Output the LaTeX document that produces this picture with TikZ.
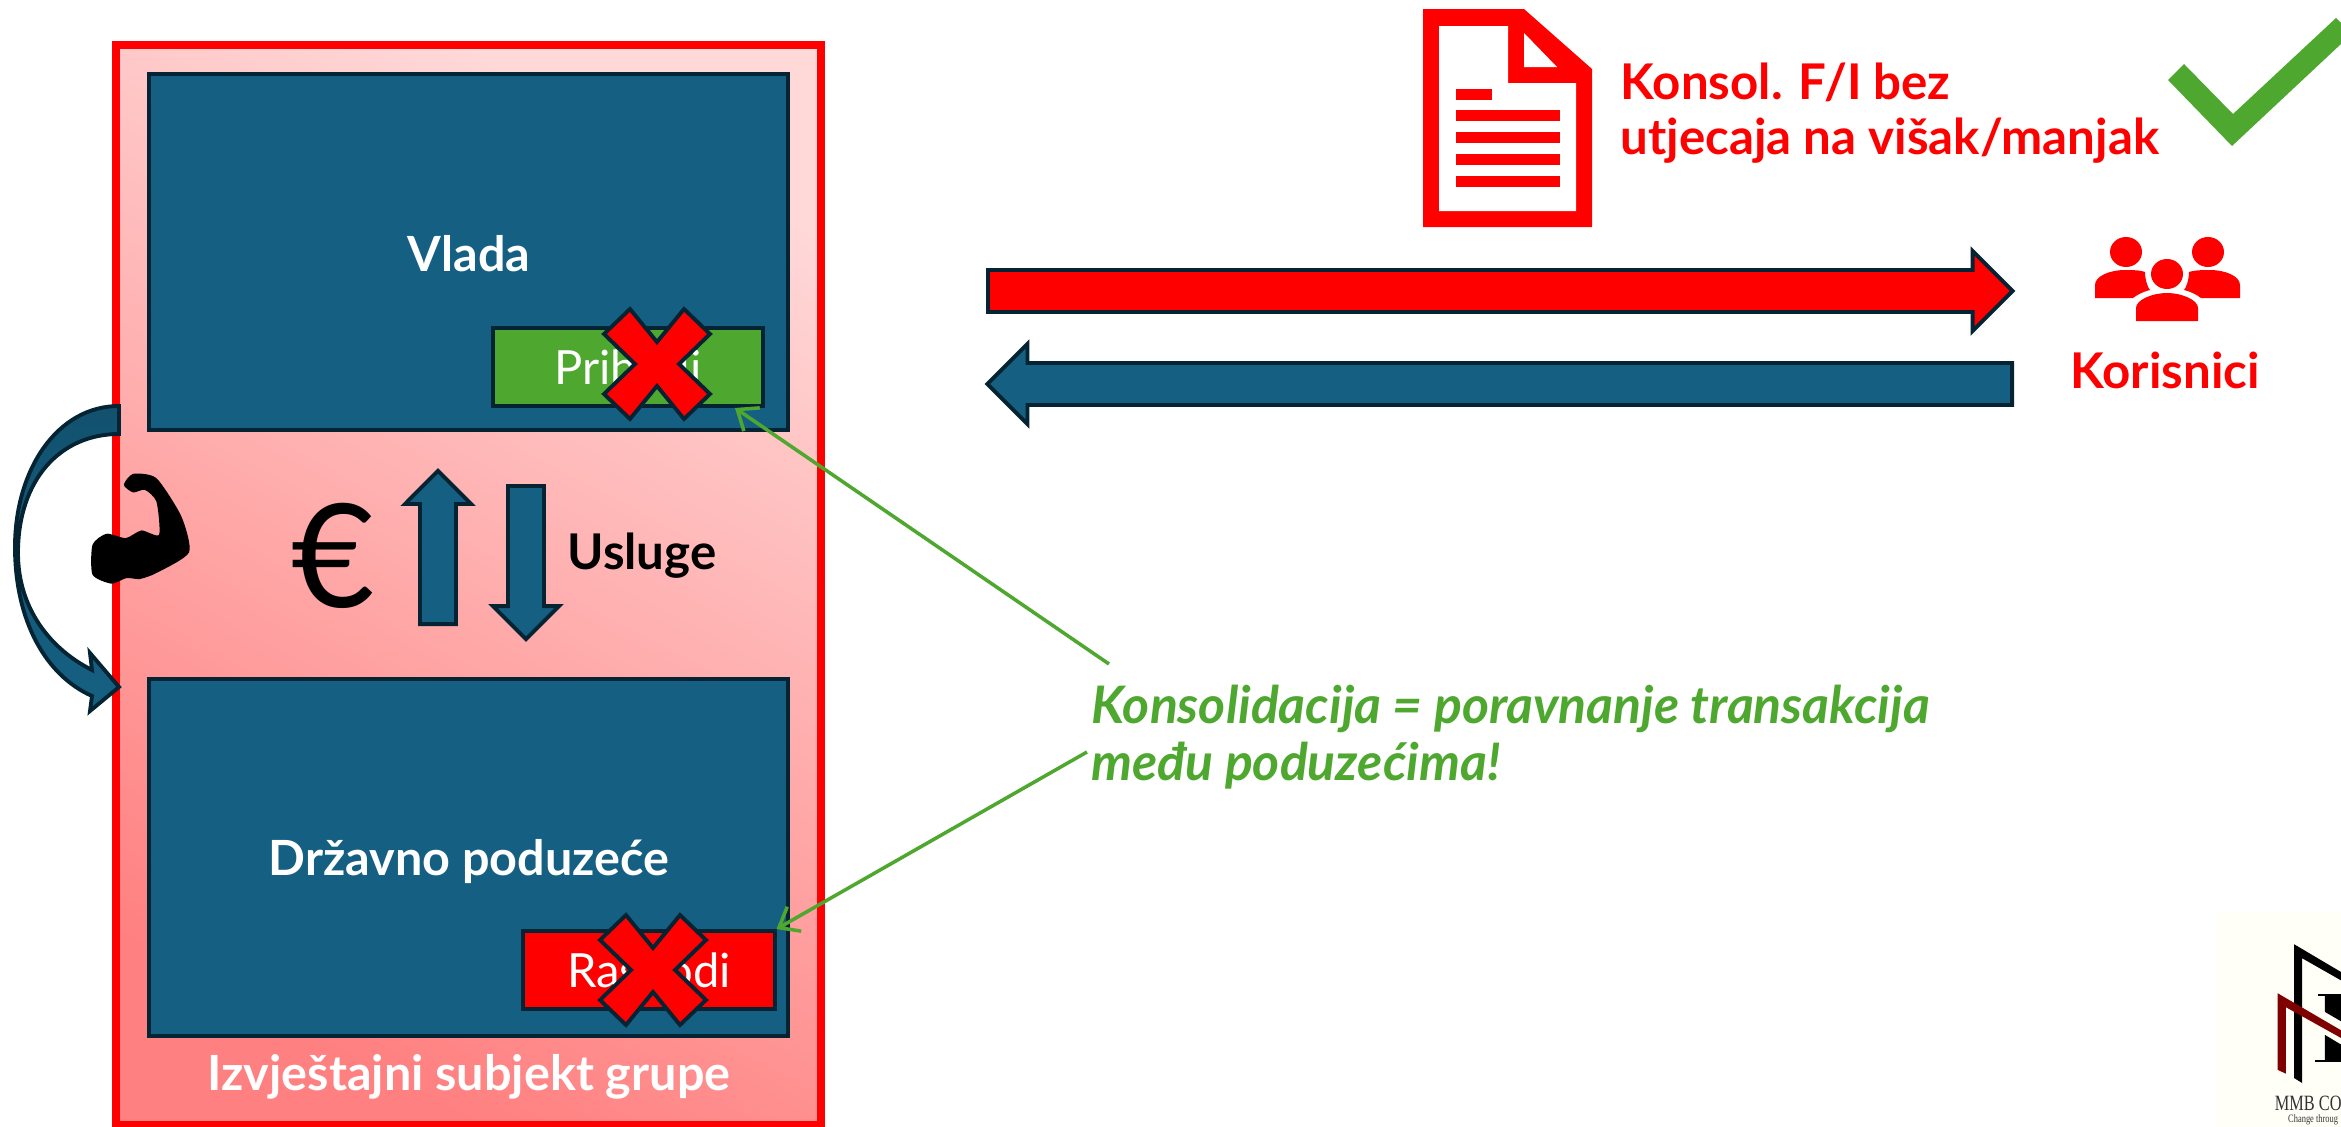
\documentclass[tikz,border=0pt]{standalone}
\usepackage{fontspec}
\setmainfont{Lato}
\newfontfamily\logofont[FakeStretch=0.75]{Liberation Serif}
\usetikzlibrary{ shapes.arrows, % For the block arrows
                 arrows.meta,
               }
\definecolor{boxblue}{HTML}{156082}
\definecolor{boxline}{HTML}{042433}
\definecolor{okgreen}{HTML}{4EA72E}
\definecolor{cream}{HTML}{FFFFF8}
\definecolor{logored}{HTML}{7F0000}
\definecolor{framelight}{HTML}{FFD8D8}
\definecolor{framedark}{HTML}{FF8080}
\tikzstyle{entity} = [rectangle, fill=boxblue, draw=boxline, line width=1.1pt, minimum width=6.39cm, minimum height=3.56cm]
\tikzstyle{entry} = [rectangle, draw=boxline, line width=1.1pt, minimum height=0.78cm, text=white, font=\fontsize{13.4}{15}\selectfont]
\tikzstyle{blockarrow} = [single arrow, anchor=tail, single arrow head extend=0.19cm, inner xsep=0pt, inner ysep=0.19cm, minimum width=0.76cm, minimum height=10.24cm, draw=boxline, line width=1.1pt]
\tikzstyle{smallarrow} = [single arrow, anchor=tail, single arrow head extend=0.15cm, inner xsep=0pt, inner ysep=0.16cm, minimum width=0.62cm, minimum height=1.53cm, fill=boxblue, draw=boxline, line width=1.1pt]
\tikzstyle{redtext} = [text=red, font=\fontsize{14}{15.7}\selectfont\bfseries, align=left]
\tikzstyle{whitetext} = [text=white, font=\fontsize{13.8}{15.7}\selectfont\bfseries]
\tikzstyle{crossmark} = [fill=red, draw=boxline, line width=1.1pt]
\tikzstyle{pointer} = [draw=okgreen, line width=1pt, -{Straight Barb[length=5pt,width=8pt]}]

\begin{document}
\begin{tikzpicture}[x=0.01cm, y=-0.01cm]
  \useasboundingbox (0, 0) rectangle (2341, 1127);

  % group frame and the two units
  \node (frame) [rectangle, draw=red, line width=2.3pt, minimum width=7.04cm, minimum height=10.79cm, top color=framelight, bottom color=framedark, shading angle=-28] at (468.5, 585) {};
  \node (vlada) [entity] at (468.5, 252) {};
  \node (poduzece) [entity] at (468.5, 857.5) {};
  \node (vladatxt) [whitetext] at (469, 254) {Vlada};
  \node (poduzecetxt) [whitetext] at (469, 862) {Državno poduzeće};
  \node (grupa) [whitetext] at (469, 1077) {Izvještajni subjekt grupe};

  \node (prihodi) [entry, fill=okgreen, minimum width=2.70cm] at (628, 367) {Prihodi};
  \node (rashodi) [entry, fill=red, minimum width=2.51cm] at (649, 970) {Rashodi};
  \draw [crossmark] (657, 364) ++(-27, -55) -- ++(27, 33) -- ++(27, -33) -- ++(26, 25) -- ++(-31, 30) -- ++(31, 30) -- ++(-26, 25) -- ++(-27, -33) -- ++(-27, 33) -- ++(-26, -25) -- ++(31, -30) -- ++(-31, -30) -- cycle;
  \draw [crossmark] (653, 970) ++(-27, -55) -- ++(27, 33) -- ++(27, -33) -- ++(26, 25) -- ++(-31, 30) -- ++(31, 30) -- ++(-26, 25) -- ++(-27, -33) -- ++(-27, 33) -- ++(-26, -25) -- ++(31, -30) -- ++(-31, -30) -- cycle;

  % flows between the units
  \node (euro) [font=\fontsize{41}{44}\selectfont] at (333, 556) {€};
  \node (uparrow) [smallarrow, rotate=90] at (438, 626) {};
  \node (downarrow) [smallarrow, rotate=-90] at (526, 484) {};
  \node (usluge) [font=\fontsize{14}{15.7}\selectfont\bfseries] at (642, 556) {Usluge};

  % curved arrow on the left
  \draw [draw=boxline, line width=1.1pt, top color=boxblue!85!black, middle color=boxblue, bottom color=boxblue] (119, 406) .. controls (57, 406) and (15, 470) .. (15, 547) .. controls (15, 620) and (45, 675) .. (92, 696) -- (90, 711) -- (119, 687) -- (90, 653) -- (92, 670) .. controls (52, 650) and (18, 610) .. (18, 553) .. controls (18, 480) and (60, 434) .. (119, 434) -- cycle;
  \begin{scope}[shift={(0, 380)}, x=0.00333cm, y=-0.00333cm]
    \fill [black] plot [smooth cycle, tension=0.4] coordinates {(278, 495) (320, 462) (378, 475) (425, 452) (478, 465) (470, 365) (435, 330) (400, 338) (372, 315) (400, 282) (470, 295) (545, 410) (568, 518) (470, 580) (420, 598) (380, 595) (335, 612) (278, 585)};
  \end{scope}

  % report icon
  \fill [red] (1423, 9) -- (1524, 9) -- (1592, 69) -- (1592, 227) -- (1423, 227) -- cycle;
  \fill [white] (1439, 26) -- (1508, 26) -- (1508, 83) -- (1576, 83) -- (1576, 211) -- (1439, 211) -- cycle;
  \fill [white] (1524, 33) -- (1557, 67) -- (1524, 67) -- cycle;
  \fill [red] (1456, 89) rectangle (1492, 100);
  \foreach \y in {110, 132, 154, 176}
    \fill [red] (1456, \y) rectangle (1560, \y + 11);
  \node (izvjestaj) [redtext, anchor=west, inner sep=0pt] at (1620, 113) {Konsol. F/I bez\\utjecaja na višak/manjak};
  \fill [okgreen] (2168, 80) -- (2184, 64) -- (2233, 114) -- (2336, 18) -- (2341, 23) -- (2341, 44) -- (2232, 146) -- cycle;

  % arrows to and from the users
  \node (izlaz) [blockarrow, fill=red] at (986, 291) {};
  \node (ulaz) [blockarrow, fill=boxblue, shape border rotate=180] at (2014, 384) {};

  % users icon
  \fill [red] (2126, 252) ellipse (16 and 15);
  \fill [red] (2208, 252) ellipse (16 and 15);
  \fill [red] (2095, 298) -- (2095, 285) .. controls (2095, 276) and (2110, 270) .. (2125, 270) .. controls (2130, 270) and (2140, 270) .. (2145, 272) .. controls (2145, 280) and (2148, 288) .. (2150, 290) .. controls (2142, 292) and (2137, 295) .. (2133, 298) -- cycle;
  \fill [red] (2240, 298) -- (2240, 285) .. controls (2240, 276) and (2225, 270) .. (2210, 270) .. controls (2205, 270) and (2195, 270) .. (2189, 272) .. controls (2189, 280) and (2186, 288) .. (2184, 290) .. controls (2192, 292) and (2197, 295) .. (2201, 298) -- cycle;
  \fill [red] (2167, 274) ellipse (16 and 15);
  \fill [red] (2136, 321) -- (2136, 308) .. controls (2136, 300) and (2152, 293) .. (2167, 293) .. controls (2182, 293) and (2198, 300) .. (2198, 308) -- (2198, 321) -- cycle;
  \node (korisnici) [redtext] at (2165, 370) {Korisnici};

  % consolidation note
  \node (napomena) [anchor=west, inner sep=0pt, align=left, text=okgreen, font=\fontsize{14.7}{16}\selectfont\bfseries\itshape] at (1091, 737) {Konsolidacija = poravnanje transakcija\\među poduzećima!};
  \coordinate (gornji) at (1109, 664);
  \coordinate (donji) at (1087, 752);
  \draw [pointer] (gornji) -- ([xshift=-0.3cm]prihodi.south east);
  \draw [pointer] (donji) -- (rashodi.north east);

  % logo
  \begin{scope}
    \clip (2217, 913) rectangle (2341, 1127);
    \fill [cream] (2217, 913) rectangle (2341, 1127);
    \begin{scope}[shift={(2180, 900)}, x=0.00333cm, y=-0.00333cm]
      \fill [black] (343, 133) -- (490, 220) -- (490, 245) -- (367, 175) -- (367, 550) -- (343, 535) -- cycle;
      \fill [logored] (293, 280) -- (490, 395) -- (490, 418) -- (318, 322) -- (318, 522) -- (293, 510) -- cycle;
      \fill [black] (415, 283) rectangle (490, 288);
      \fill [black] (435, 288) -- (490, 288) -- (490, 368) -- (435, 336) -- cycle;
      \fill [black] (435, 405) -- (490, 438) -- (490, 482) -- (435, 482) -- cycle;
      \fill [black] (405, 482) rectangle (490, 487);
      \node (logoname) [anchor=west, inner sep=0pt, font=\logofont\fontsize{6.2}{7}\selectfont, text=black!80] at (283, 612) {MMB CO};
      \node (logoline) [anchor=west, inner sep=0pt, font=\logofont\fontsize{3.2}{4}\selectfont, text=black!80] at (323, 660) {Change throug};
    \end{scope}
  \end{scope}
\end{tikzpicture}
\end{document}
